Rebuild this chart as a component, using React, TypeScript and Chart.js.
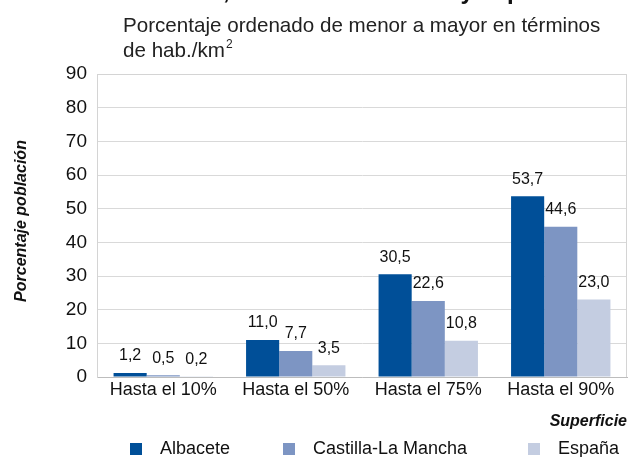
import { useEffect, useRef } from 'react';
import { Chart, registerables } from 'chart.js';

Chart.register(...registerables);

const categories = ['Hasta el 10%', 'Hasta el 50%', 'Hasta el 75%', 'Hasta el 90%'];
const seriesNames = ['Albacete', 'Castilla-La Mancha', 'España'];
const albaceteValues = [1.2, 11.0, 30.5, 53.7];
const castillaValues = [0.5, 7.7, 22.6, 44.6];
const espanaValues = [0.2, 3.5, 10.8, 23.0];
const seriesColors = ['#004F98', '#7D95C3', '#C4CDE1'];
const yMin = 0;
const yMax = 90;
const yStep = 10;

const titleText = 'Relación, densidad territorial y la población';
const subtitleLine1 = 'Porcentaje ordenado de menor a mayor en términos';
const subtitleLine2 = 'de hab./km';
const yAxisTitle = 'Porcentaje población';
const xAxisTitle = 'Superficie';

const FONT = '"Liberation Sans", Arial, Helvetica, sans-serif';

const fmt = (v: number) => v.toFixed(1).replace('.', ',');

const decorPlugin = {
  id: 'decor',
  beforeDatasetsDraw(chart: any) {
    const { ctx, chartArea } = chart;
    ctx.save();
    ctx.strokeStyle = '#D4D4D4';
    ctx.lineWidth = 1;
    ctx.beginPath();
    ctx.moveTo(chartArea.left, chartArea.top + 0.5);
    ctx.lineTo(chartArea.right - 0.5, chartArea.top + 0.5);
    ctx.lineTo(chartArea.right - 0.5, chartArea.bottom);
    ctx.stroke();
    ctx.restore();
  },
  afterDatasetsDraw(chart: any) {
    const { ctx } = chart;
    ctx.save();
    ctx.font = `16px ${FONT}`;
    ctx.fillStyle = '#111';
    ctx.textAlign = 'center';
    ctx.textBaseline = 'middle';
    chart.data.datasets.forEach((ds: any, i: number) => {
      const meta = chart.getDatasetMeta(i);
      meta.data.forEach((bar: any, j: number) => {
        ctx.fillText(fmt(ds.data[j]), bar.x, bar.y - 17);
      });
    });
    ctx.restore();
  },
  afterDraw(chart: any) {
    const { ctx, chartArea } = chart;
    ctx.save();
    // cut-off title (only descenders remain visible)
    ctx.fillStyle = '#111';
    ctx.textAlign = 'left';
    ctx.textBaseline = 'alphabetic';
    ctx.font = `bold 24px ${FONT}`;
    ctx.fillText(titleText, 123, -1);
    // subtitle
    ctx.fillStyle = '#222';
    ctx.font = `20.6px ${FONT}`;
    ctx.fillText(subtitleLine1, 123, 32);
    ctx.fillText(subtitleLine2, 123, 57);
    const w = ctx.measureText(subtitleLine2).width;
    ctx.font = `12px ${FONT}`;
    ctx.fillText('2', 123 + w + 1, 48);
    // y axis title
    ctx.save();
    ctx.translate(22, 221);
    ctx.rotate(-Math.PI / 2);
    ctx.font = `italic bold 16px ${FONT}`;
    ctx.textAlign = 'center';
    ctx.textBaseline = 'middle';
    ctx.fillStyle = '#111';
    ctx.fillText(yAxisTitle, 0, 0);
    ctx.restore();
    // x axis title
    ctx.font = `italic bold 16px ${FONT}`;
    ctx.textAlign = 'right';
    ctx.textBaseline = 'middle';
    ctx.fillStyle = '#111';
    ctx.fillText(xAxisTitle, chartArea.right, 422);
    // legend
    const boxX = [130, 283, 528];
    ctx.font = `18px ${FONT}`;
    ctx.textAlign = 'left';
    seriesNames.forEach((name, i) => {
      ctx.fillStyle = seriesColors[i];
      ctx.fillRect(boxX[i], 443, 12, 12);
      ctx.fillStyle = '#111';
      ctx.fillText(name, boxX[i] + 30, 449);
    });
    ctx.restore();
  },
};

export default function App() {
  const canvasRef = useRef<HTMLCanvasElement | null>(null);

  useEffect(() => {
    document.body.style.margin = '0';
    const canvas = canvasRef.current;
    if (!canvas) return;
    const values = [albaceteValues, castillaValues, espanaValues];
    const chart = new Chart(canvas, {
      type: 'bar',
      data: {
        labels: categories,
        datasets: seriesNames.map((name, i) => ({
          label: name,
          data: values[i],
          backgroundColor: seriesColors[i],
          borderWidth: 0,
          categoryPercentage: 0.75,
          barPercentage: 1.0,
        })),
      },
      options: {
        animation: false,
        responsive: true,
        maintainAspectRatio: false,
        layout: { padding: { left: 0, right: 5, top: 74, bottom: 0 } },
        plugins: {
          legend: { display: false },
          tooltip: { enabled: false },
          title: { display: false },
        },
        scales: {
          x: {
            grid: { display: false, drawTicks: false },
            border: { display: true, color: '#BDBDBD' },
            ticks: {
              color: '#111',
              font: { family: FONT, size: 18 },
              padding: 2,
              maxRotation: 0,
            },
            afterFit: (s: any) => {
              s.height = 80;
            },
          },
          y: {
            min: yMin,
            max: yMax,
            ticks: {
              stepSize: yStep,
              color: '#111',
              font: { family: FONT, size: 19 },
              padding: 10,
            },
            grid: { color: '#D9D9D9', drawTicks: false },
            border: { display: true, color: '#D4D4D4' },
            afterFit: (s: any) => {
              s.width = 97;
            },
          },
        },
      },
      plugins: [decorPlugin],
    });
    return () => chart.destroy();
  }, []);

  return (
    <div style={{ position: 'absolute', left: 0, top: 0, width: 632, height: 457 }}>
      <canvas ref={canvasRef} />
    </div>
  );
}
